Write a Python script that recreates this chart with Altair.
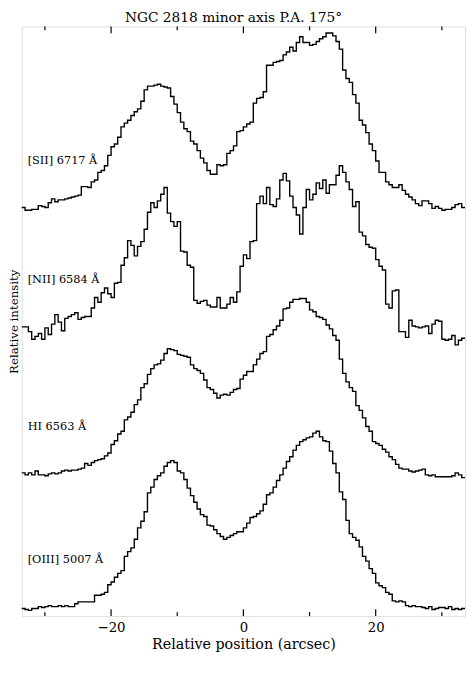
import altair as alt
import numpy as np
import pandas as pd

# ---- data (relative intensity, arbitrary units, 0.5" bins from -33.5" to 33.5") ----
x_start, x_end, bin_width = -33.5, 33.5, 0.5

sii_6717 = [5,2,2,3,3,7,6,5,10,14, 11,13,13,14,15,16,17,18,27,27, 26,32,34,42,44,49,60,69,72,79,
            90,94,97,102,106,109,117,129,133,133, 134,135,133,132,131,122,114,105,95,88,
            85,75,72,65,57,52,44,40,40,50, 49,50,62,65,70,85,86,90,93,95,
            115,120,121,127,155,155,158,159,160,166, 169,174,170,179,185,179,179,176,177,180,
            183,185,189,189,186,180,172,150,141,137, 124,115,97,92,84,72,65,54,42,42,
            32,29,26,26,29,23,19,16,13,9, 7,12,12,9,4,6,4,2,3,3, 5,8,9,5]

nii_6584 = [17,17,12,4,7,10,4,16,9,20, 30,22,13,26,28,30,32,25,27,28, 28,37,48,43,53,58,52,48,63,64,
            82,90,108,103,92,102,107,120,138,148, 143,150,157,164,137,128,123,128,97,96,
            82,80,45,42,44,45,40,38,38,48, 37,37,41,48,43,54,81,93,89,107,
            108,147,155,147,164,146,144,152,172,179, 171,155,143,135,115,143,162,151,157,169,
            163,172,158,167,167,177,187,180,170,162, 144,149,117,113,104,101,100,88,81,77,
            41,37,55,56,12,12,6,24,18,17, 16,17,18,10,20,24,23,4,3,4, 8,-2,3,5]

hi_6563 = [5,3,5,3,7,3,3,2,4,5, 4,5,7,8,7,8,8,9,10,15, 13,16,18,19,20,23,26,35,39,46,
           49,61,64,69,77,82,95,99,109,115, 119,120,124,131,136,135,134,130,129,128,
           127,119,115,113,110,103,95,93,89,84, 87,88,87,90,93,94,104,108,112,112,
           119,125,131,133,149,151,156,160,166,178, 179,185,188,188,189,189,185,177,175,170,
           169,167,161,157,150,145,125,110,101,95, 91,76,71,63,54,49,38,36,34,30,
           27,22,19,14,10,9,9,7,6,7, 8,9,3,2,3,1,1,1,1,1, 2,5,3,0]

oiii_5007 = [2,1,0,2,2,4,3,4,5,4, 4,5,4,5,4,4,7,9,9,9, 9,9,16,16,17,19,27,30,35,39,
             42,57,62,66,75,87,94,104,124,130, 138,142,145,152,156,158,156,147,145,138,
             129,121,114,107,101,99,90,89,85,81, 78,75,77,79,81,83,83,87,92,98,
             99,102,105,112,122,124,130,137,143,150, 157,162,169,174,178,180,182,183,187,189,
             183,179,178,168,155,145,125,117,95,81, 77,74,67,57,52,44,39,29,26,24,
             19,17,10,9,10,9,5,4,5,4, 4,3,2,4,1,2,3,3,2,4, 1,2,1,2]

series_names = ["[SII] 6717 Å", "[NII] 6584 Å", "HI 6563 Å", "[OIII] 5007 Å"]
series_values = [sii_6717, nii_6584, hi_6563, oiii_5007]
series_offsets = [426, 288, 146, 6]      # vertical stacking offsets
label_heights = [480, 354, 199, 59]      # label positions (same units)
label_x = -32.6

tick_major = [-20, 0, 20]
tick_minor = [-30, -10, 10, 30]

title_text = "NGC 2818 minor axis P.A. 175°"
x_title = "Relative position (arcsec)"
y_title = "Relative intensity"

# ---- build tables ----
rows = []
for name, vals, off in zip(series_names, series_values, series_offsets):
    n = len(vals)
    edges = x_start + bin_width * np.arange(n + 1)
    ext = list(vals) + [vals[-1]]
    for xe, v in zip(edges, ext):
        rows.append({"series": name, "x": float(xe), "h": off + v})
df = pd.DataFrame(rows)

lab_df = pd.DataFrame({"series": series_names, "x": [label_x] * 4, "h": label_heights})
ticks_df = pd.DataFrame({"x": tick_major + tick_minor,
                         "kind": ["major"] * len(tick_major) + ["minor"] * len(tick_minor)})

W, H = 451, 600
FONT = "DejaVu Serif"
xscale = alt.Scale(domain=[x_start, x_end], nice=False, zero=False)
yscale = alt.Scale(domain=[0, 622], nice=False, zero=False)

lines = alt.Chart(df).mark_line(interpolate="step-after", color="black", strokeWidth=1.4).encode(
    x=alt.X("x:Q", scale=xscale,
            axis=alt.Axis(values=tick_major, ticks=False, tickSize=0, domain=False, grid=False,
                          title=x_title, labelFont=FONT, labelFontSize=13.5, labelColor="black",
                          labelPadding=5, titleFont=FONT, titleFontSize=14.5, titleFontWeight="normal",
                          titleColor="black", titlePadding=3)),
    y=alt.Y("h:Q", scale=yscale,
            axis=alt.Axis(ticks=False, tickSize=0, labels=False, domain=False, grid=False,
                          title=y_title, titleFont=FONT, titleFontSize=12,
                          titleFontWeight="normal", titleColor="black",
                          titleX=-1, titleY=H / 2, titleAngle=270, titleBaseline="bottom",
                          titleAlign="center")),
    detail="series:N",
)

labels = alt.Chart(lab_df).mark_text(align="left", baseline="middle", font=FONT,
                                     fontSize=11.5, color="black").encode(
    x=alt.X("x:Q", scale=xscale), y=alt.Y("h:Q", scale=yscale), text="series:N")

def tick_layer(kind, y0, y1):
    return alt.Chart(ticks_df).transform_filter(alt.datum.kind == kind).mark_rule(
        color="black", strokeWidth=1.2).encode(
        x=alt.X("x:Q", scale=xscale), y=alt.value(y0), y2=alt.value(y1))

ticks = [tick_layer("major", H, H - 7), tick_layer("minor", H, H - 4),
         tick_layer("major", 0, 7), tick_layer("minor", 0, 4)]

chart = alt.layer(lines, labels, *ticks).properties(
    width=W, height=H,
    title=alt.TitleParams(title_text, font=FONT, fontSize=14, fontWeight="normal",
                          color="black", offset=1, frame="group", dx=-10),
    autosize="none",
    padding={"left": 14, "top": 13, "right": 1, "bottom": 40},
).configure_view(stroke="black", strokeWidth=1.3).configure(background="white")

chart.save("out.html", embed_options={"renderer": "svg", "actions": False})
